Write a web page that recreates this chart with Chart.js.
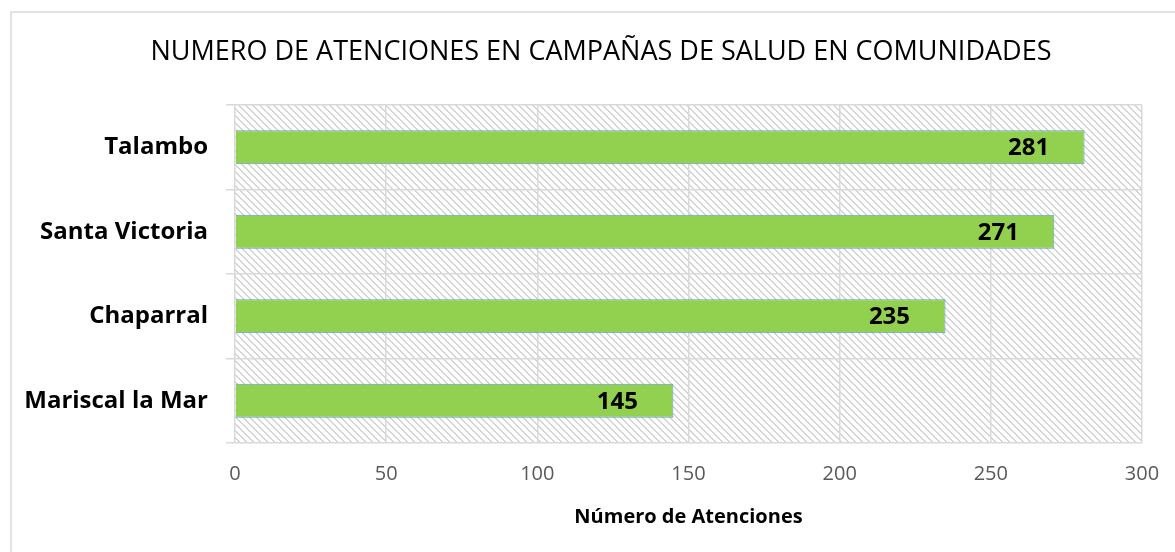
<!DOCTYPE html>
<html>
<head>
<meta charset="utf-8">
<script src="https://cdn.jsdelivr.net/npm/chart.js@4.4.1/dist/chart.umd.min.js"></script>
<style>
  html, body { margin: 0; padding: 0; background: #fff; }
  #wrap { width: 1175px; height: 552px; position: relative; }
</style>
</head>
<body>
<div id="wrap"><canvas id="chart" width="1175" height="552"></canvas></div>
<script>
/* ---- data ---- */
const categories = ['Talambo', 'Santa Victoria', 'Chaparral', 'Mariscal la Mar'];
const atenciones = [281, 271, 235, 145];
const xTicks     = [0, 50, 100, 150, 200, 250, 300];

const chartTitle = 'NUMERO DE ATENCIONES EN CAMPAÑAS DE SALUD EN COMUNIDADES';
const xTitle     = 'Número de Atenciones';

const FONT  = "'Open Sans', 'Noto Sans', sans-serif";
const GRID  = '#d9d9d9';

/* hatch tile for plot area (downward diagonal) */
function makeHatch() {
  const n = 7;
  const t = document.createElement('canvas');
  t.width = n; t.height = n;
  const c = t.getContext('2d');
  c.fillStyle = '#d4d4d4';
  for (let i = 0; i < n; i++) {
    c.fillRect(i, i, 1, 1);
    c.fillRect((i + 1) % n, i, 1, 1);
  }
  return t;
}

const framePlugin = {
  id: 'frame',
  beforeDraw(chart) {
    const { ctx, chartArea: a } = chart;
    ctx.save();
    ctx.fillStyle = '#fff';
    ctx.fillRect(0, 0, chart.width, chart.height);
    /* outer chart border */
    ctx.strokeStyle = GRID;
    ctx.lineWidth = 1.5;
    ctx.beginPath();
    ctx.moveTo(11, chart.height + 2);
    ctx.lineTo(11, 12);
    ctx.lineTo(chart.width + 2, 12);
    ctx.stroke();
    /* hatched plot area */
    ctx.fillStyle = ctx.createPattern(makeHatch(), 'repeat');
    ctx.fillRect(a.left, a.top, a.right - a.left, a.bottom - a.top);
    /* chart title (centred on the bordered frame, not the canvas) */
    ctx.font = `27px ${FONT}`;
    ctx.fillStyle = '#000';
    ctx.textAlign = 'center';
    ctx.textBaseline = 'middle';
    ctx.fillText(chartTitle, 601, 52);
    ctx.restore();
  }
};

const valueLabels = {
  id: 'valueLabels',
  afterDatasetsDraw(chart) {
    const { ctx } = chart;
    const meta = chart.getDatasetMeta(0);
    ctx.save();
    ctx.font = `bold 24px ${FONT}`;
    ctx.fillStyle = '#000';
    ctx.textAlign = 'center';
    ctx.textBaseline = 'middle';
    meta.data.forEach((bar, i) => {
      ctx.fillText(String(atenciones[i]), bar.x - 56, bar.y + 1);
    });
    ctx.restore();
  }
};

new Chart(document.getElementById('chart'), {
  type: 'bar',
  data: {
    labels: categories,
    datasets: [{
      label: xTitle,
      data: atenciones,
      backgroundColor: '#92d050',
      borderColor: '#5b9bd5',
      borderWidth: 1,
      barPercentage: 0.4,
      categoryPercentage: 1.0,
    }]
  },
  options: {
    indexAxis: 'y',
    responsive: false,
    animation: false,
    layout: { padding: { left: 20, right: 33, top: 105, bottom: 12 } },
    plugins: {
      legend: { display: false },
      tooltip: { enabled: false },
      title: { display: false }
    },
    scales: {
      x: {
        min: 0, max: 300,
        afterBuildTicks: s => { s.ticks = xTicks.map(v => ({ value: v })); },
        afterFit: s => { s.paddingRight = 0; },
        grid:   { color: GRID, lineWidth: 1.5, drawTicks: false },
        border: { display: false },
        ticks:  { color: '#595959', padding: 24, font: { family: FONT, size: 20, lineHeight: 0.7 } },
        title: {
          display: true,
          text: xTitle,
          color: '#000',
          font: { family: FONT, size: 20, weight: 'bold', lineHeight: 1.2 },
          padding: { top: 0, bottom: 11 }
        }
      },
      y: {
        afterFit: s => { s.width = 215; },
        grid:   { color: GRID, lineWidth: 1.5, tickLength: 9, offset: true },
        border: { display: false },
        ticks:  { color: '#000', padding: 18, font: { family: FONT, size: 24, weight: 'bold' } }
      }
    }
  },
  plugins: [framePlugin, valueLabels]
});
</script>
</body>
</html>
